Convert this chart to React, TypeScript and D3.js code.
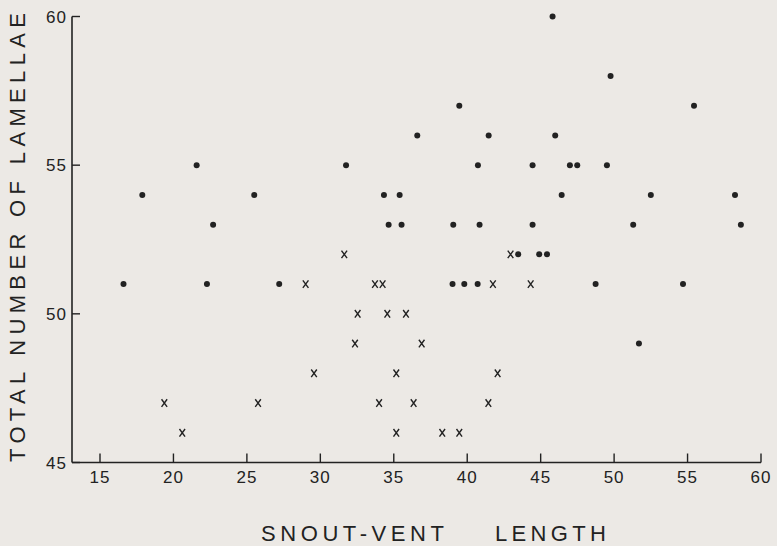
import React from "react";
import * as d3 from "d3";

const dotX = [16.6, 17.88, 21.58, 22.28, 22.7, 25.5, 27.2, 31.75, 34.33, 35.4, 34.65, 35.53, 36.6, 39.05, 39.46, 40.73, 40.84, 41.46, 39.0, 39.8, 40.71, 43.47, 44.45, 44.45, 44.9, 45.43, 45.81, 45.99, 46.43, 46.99, 47.49, 48.74, 49.51, 49.76, 51.3, 51.69, 52.5, 54.69, 55.44, 58.23, 58.63];
const dotY = [51, 54, 55, 51, 53, 54, 51, 55, 54, 54, 53, 53, 56, 53, 57, 55, 53, 56, 51, 51, 51, 52, 55, 53, 52, 52, 60, 56, 54, 55, 55, 51, 55, 58, 53, 49, 54, 51, 57, 54, 53];

const crossX = [19.38, 20.6, 25.76, 29.0, 29.57, 31.63, 32.36, 32.54, 33.72, 34.24, 34.0, 34.56, 35.17, 35.17, 35.83, 36.35, 36.9, 38.3, 39.46, 41.44, 41.75, 42.07, 42.95, 44.32];
const crossY = [47, 46, 47, 51, 48, 52, 49, 50, 51, 51, 47, 50, 48, 46, 50, 47, 49, 46, 46, 47, 51, 48, 52, 51];

const xTicks = [15, 20, 25, 30, 35, 40, 45, 50, 55, 60];
const yTicks = [45, 50, 55, 60];

const xLabelA = "SNOUT-VENT";
const xLabelB = "LENGTH";
const yLabel = "TOTAL NUMBER OF LAMELLAE";

export default function App() {
  const W = 777, H = 546;
  const x = d3.scaleLinear().domain([15, 60]).range([100, 761]);
  const y = d3.scaleLinear().domain([45, 60]).range([462.5, 16.5]);
  const axisX0 = 72;
  const ink = "#222";
  const font = "'Liberation Sans', Arial, sans-serif";
  return (
    <div style={{ position: "absolute", left: 0, top: 0 }}>
      <svg width={W} height={H} style={{ display: "block", background: "#ECE9E5" }}>
        <rect x={0} y={0} width={W} height={H} fill="#ECE9E5" />
        {/* axes */}
        <line x1={axisX0} x2={axisX0} y1={y(60)} y2={y(45)} stroke={ink} strokeWidth={1.6} />
        <line x1={axisX0} x2={x(60)} y1={y(45)} y2={y(45)} stroke={ink} strokeWidth={1.6} />
        {xTicks.map((t) => (
          <g key={"xt" + t}>
            <line x1={x(t)} x2={x(t)} y1={y(45)} y2={y(45) - 9} stroke={ink} strokeWidth={1.4} />
            <text x={x(t)} y={483} textAnchor="middle" fontSize={17} fill={ink} fontFamily={font} letterSpacing={1}>
              {t}
            </text>
          </g>
        ))}
        {yTicks.map((t) => (
          <g key={"yt" + t}>
            <line x1={axisX0} x2={axisX0 + 8} y1={y(t)} y2={y(t)} stroke={ink} strokeWidth={1.4} />
            <text x={67} y={y(t) + 6} textAnchor="end" fontSize={17} fill={ink} fontFamily={font} letterSpacing={1}>
              {t}
            </text>
          </g>
        ))}
        {/* dots */}
        {dotX.map((v, i) => (
          <circle key={"d" + i} cx={x(v)} cy={y(dotY[i])} r={3} fill={ink} />
        ))}
        {/* crosses */}
        {crossX.map((v, i) => {
          const cx = x(v), cy = y(crossY[i]);
          return (
            <path
              key={"c" + i}
              d={`M${cx - 2.8},${cy - 3.8}L${cx + 2.8},${cy + 3.8}M${cx + 2.8},${cy - 3.8}L${cx - 2.8},${cy + 3.8}`}
              stroke={ink}
              strokeWidth={1.4}
              fill="none"
            />
          );
        })}
        {/* axis titles */}
        <text x={261} y={541} fontSize={22} fill={ink} fontFamily={font} textLength={183} lengthAdjust="spacing">
          {xLabelA}
        </text>
        <text x={495} y={541} fontSize={22} fill={ink} fontFamily={font} textLength={111} lengthAdjust="spacing">
          {xLabelB}
        </text>
        <text
          transform="translate(24.5,237.5) rotate(-90)"
          x={0}
          y={0}
          textAnchor="middle"
          fontSize={22}
          fill={ink}
          fontFamily={font}
          textLength={449}
          lengthAdjust="spacing"
        >
          {yLabel}
        </text>
      </svg>
    </div>
  );
}
